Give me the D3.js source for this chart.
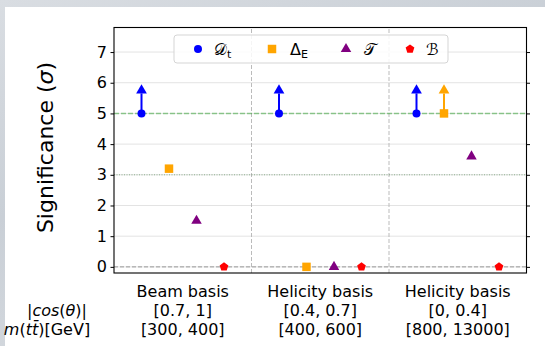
<!DOCTYPE html>
<html>
<head>
<meta charset="utf-8">
<script src="https://cdn.jsdelivr.net/npm/d3@7"></script>
<style>
  body { margin: 0; background: linear-gradient(160deg, #d9dde2, #c9cfd6 40%, #dfe2e6); }
  svg { display: block; font-family: "DejaVu Sans", sans-serif; }
</style>
</head>
<body>
<svg id="chart" width="545" height="346"></svg>
<script>
// categories
const groupNames = ['Beam basis', 'Helicity basis', 'Helicity basis'];
const cosRanges = ['[0.7, 1]', '[0.4, 0.7]', '[0, 0.4]'];
const massRanges = ['[300, 400]', '[400, 600]', '[800, 13000]'];

// series values (significance in sigma)
const dtValues = [5, 5, 5];
const deltaEValues = [3.2, 0, 5];
const tValues = [1.5, 0, 3.6];
const bValues = [0, 0, 0];

// which points are lower limits (drawn with an up arrow)
const dtLimits = [true, true, true];
const deltaELimits = [false, false, true];
const arrowLength = 0.75;

const yTicks = [0, 1, 2, 3, 4, 5, 6, 7];

const width = 545, height = 346;
const margin = { left: 114, right: 18.5, top: 27.5, bottom: 73 };

const pentagon = {
  draw(context, size) {
    const r = Math.sqrt(size / 2.378);
    for (let i = 0; i < 5; i++) {
      const a = -Math.PI / 2 + i * 2 * Math.PI / 5;
      const px = r * Math.cos(a), py = r * Math.sin(a);
      if (i === 0) context.moveTo(px, py); else context.lineTo(px, py);
    }
    context.closePath();
  }
};

const series = [
  { label: '\u{1D49F}', sub: 't', values: dtValues, limits: dtLimits, color: '#0000ff', symbol: d3.symbolCircle, size: 50, offset: -0.3 },
  { label: '\u0394', sub: 'E', values: deltaEValues, limits: deltaELimits, color: '#ffa500', symbol: d3.symbolSquare, size: 72, offset: -0.1 },
  { label: '\u{1D4AF}', sub: '', values: tValues, limits: [false, false, false], color: '#800080', symbol: d3.symbolTriangle, size: 48, offset: 0.1 },
  { label: '\u212C', sub: '', values: bValues, limits: [false, false, false], color: '#ff0000', symbol: pentagon, size: 50, offset: 0.3 }
];

const svg = d3.select('#chart');

svg.append('rect')
  .attr('x', 5).attr('y', 7)
  .attr('width', width - 5).attr('height', height - 7)
  .attr('fill', '#fff');

const x = d3.scaleLinear().domain([-0.5, 2.5]).range([margin.left, width - margin.right]);
const y = d3.scaleLinear().domain([-0.2, 7.8]).range([height - margin.bottom, margin.top]);

const plot = svg.append('g');

// horizontal grid
plot.selectAll('.grid')
  .data(yTicks)
  .enter().append('line')
  .attr('x1', x(-0.5)).attr('x2', x(2.5))
  .attr('y1', d => y(d)).attr('y2', d => y(d))
  .attr('stroke', '#e3e3e3').attr('stroke-width', 1);

// vertical separators
plot.selectAll('.sep')
  .data([0.5, 1.5])
  .enter().append('line')
  .attr('x1', d => x(d)).attr('x2', d => x(d))
  .attr('y1', y(-0.2)).attr('y2', y(7.8))
  .attr('stroke', '#bbbbbb').attr('stroke-width', 1)
  .attr('stroke-dasharray', '4,2');

// reference lines
plot.append('line')
  .attr('x1', x(-0.5)).attr('x2', x(2.5)).attr('y1', y(5)).attr('y2', y(5))
  .attr('stroke', '#2ca02c').attr('stroke-opacity', 0.5)
  .attr('stroke-width', 1.5).attr('stroke-dasharray', '5,2');
plot.append('line')
  .attr('x1', x(-0.5)).attr('x2', x(2.5)).attr('y1', y(3)).attr('y2', y(3))
  .attr('stroke', '#3f7f3f').attr('stroke-opacity', 0.7)
  .attr('stroke-width', 0.8).attr('stroke-dasharray', '1,1.5');
plot.append('line')
  .attr('x1', x(-0.5)).attr('x2', x(2.5)).attr('y1', y(0)).attr('y2', y(0))
  .attr('stroke', '#999').attr('stroke-width', 1).attr('stroke-dasharray', '4,2');

// points and arrows
series.forEach(s => {
  const g = plot.append('g');
  s.values.forEach((v, i) => {
    const cx = x(i + s.offset);
    if (s.limits[i]) {
      g.append('line')
        .attr('x1', cx).attr('x2', cx)
        .attr('y1', y(v)).attr('y2', y(v + arrowLength) + 3)
        .attr('stroke', s.color).attr('stroke-width', 2);
      g.append('path')
        .attr('d', d3.symbol(d3.symbolTriangle, 50)())
        .attr('transform', `translate(${cx},${y(v + arrowLength)})`)
        .attr('fill', s.color);
    }
    g.append('path')
      .attr('d', d3.symbol(s.symbol, s.size)())
      .attr('transform', `translate(${cx},${y(v)})`)
      .attr('fill', s.color);
  });
});

// axes
const yAxis = svg.append('g')
  .attr('transform', `translate(${margin.left},0)`)
  .call(d3.axisLeft(y).tickValues(yTicks).tickSize(3.5).tickPadding(3.5));
yAxis.select('.domain').remove();
yAxis.selectAll('text').attr('font-size', 16).attr('fill', '#000').attr('font-family', 'DejaVu Sans');

const yAxisR = svg.append('g')
  .attr('transform', `translate(${width - margin.right},0)`)
  .call(d3.axisRight(y).tickValues(yTicks).tickSize(3.5).tickFormat(''));
yAxisR.select('.domain').remove();

svg.append('rect')
  .attr('x', margin.left).attr('y', margin.top)
  .attr('width', width - margin.right - margin.left)
  .attr('height', height - margin.bottom - margin.top)
  .attr('fill', 'none').attr('stroke', '#000').attr('stroke-width', 1.1);

// x tick labels (three lines each)
const xLabels = svg.append('g').attr('font-size', 16).attr('text-anchor', 'middle');
[groupNames, cosRanges, massRanges].forEach((row, r) => {
  xLabels.selectAll(null)
    .data(row)
    .enter().append('text')
    .attr('x', (d, i) => x(i))
    .attr('y', 297 + r * 19)
    .text(d => d);
});

// row titles
const rowTitles = svg.append('g').attr('font-size', 16).attr('text-anchor', 'middle');
const t1 = rowTitles.append('text').attr('x', 57).attr('y', 316);
t1.append('tspan').text('|');
t1.append('tspan').attr('font-style', 'italic').text('cos');
t1.append('tspan').text('(');
t1.append('tspan').attr('font-style', 'italic').text('\u03B8');
t1.append('tspan').text(')|');
const t2 = rowTitles.append('text').attr('x', 47).attr('y', 335);
t2.append('tspan').attr('font-style', 'italic').text('m');
t2.append('tspan').text('(');
t2.append('tspan').attr('font-style', 'italic').text('t\u0074\u0304');
t2.append('tspan').text(')[GeV]');

// y label
const yLabel = svg.append('text')
  .attr('transform', 'translate(53,147.5) rotate(-90)')
  .attr('text-anchor', 'middle')
  .attr('font-size', 22);
yLabel.append('tspan').text('Significance (');
yLabel.append('tspan').attr('font-style', 'italic').text('\u03C3');
yLabel.append('tspan').text(')');

// legend
const legend = svg.append('g');
legend.append('rect')
  .attr('x', 174).attr('y', 35).attr('width', 274).attr('height', 28)
  .attr('rx', 3)
  .attr('fill', '#fff').attr('fill-opacity', 0.85)
  .attr('stroke', '#d5d5d5');
const legendX = [198, 272, 346, 410];
const legendTextX = [214, 290, 364, 426];
series.forEach((s, i) => {
  legend.append('path')
    .attr('d', d3.symbol(s.symbol, s.size)())
    .attr('transform', `translate(${legendX[i]},49)`)
    .attr('fill', s.color);
  const t = legend.append('text')
    .attr('x', legendTextX[i]).attr('y', 55)
    .attr('font-size', 16);
  t.append('tspan').text(s.label);
  if (s.sub) t.append('tspan').attr('font-size', 11).attr('dy', 3).text(s.sub);
});
</script>
</body>
</html>
